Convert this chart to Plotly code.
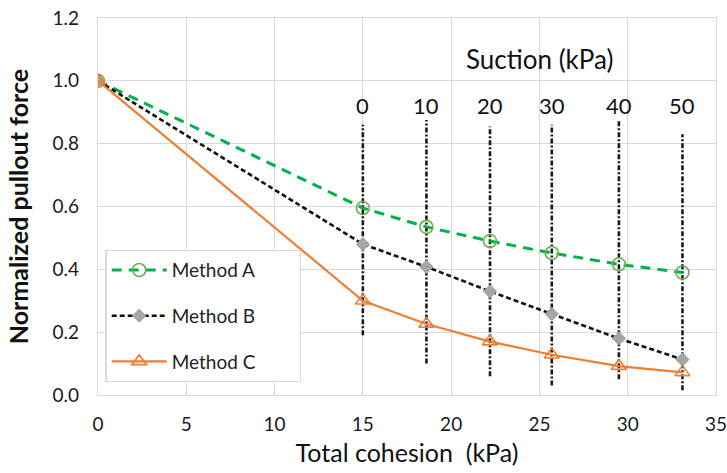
import plotly.graph_objects as go

cohesion = [0, 15, 18.6, 22.2, 25.7, 29.5, 33.1]
method_a = [1.0, 0.595, 0.535, 0.49, 0.452, 0.416, 0.39]
method_b = [1.0, 0.48, 0.408, 0.33, 0.258, 0.18, 0.113]
method_c = [1.0, 0.30, 0.226, 0.17, 0.128, 0.092, 0.072]
series_names = ["Method A", "Method B", "Method C"]

suction_labels = ["0", "10", "20", "30", "40", "50"]
suction_x = [15, 18.6, 22.2, 25.7, 29.5, 33.1]
suction_top = [0.86, 0.875, 0.855, 0.86, 0.875, 0.83]
suction_bottom = [0.19, 0.10, 0.06, 0.03, 0.05, 0.015]

FONT = "Lato"
PAD = "&nbsp;" * 8
fig = go.Figure()

for sx, st, sb in zip(suction_x, suction_top, suction_bottom):
    fig.add_trace(go.Scatter(x=[sx, sx], y=[sb, st], mode="lines",
                             line=dict(color="#1a1a1a", width=2.6, dash="5px,2px,2px,2px"),
                             showlegend=False, hoverinfo="skip"))

fig.add_trace(go.Scatter(x=cohesion, y=method_a, mode="lines+markers", name=series_names[0] + PAD,
                         legendgroup="a",
                         line=dict(color="#00B050", width=3, dash="10px,7px"),
                         marker=dict(symbol="circle-open", size=13, color="#70AD47", line=dict(width=1.6))))
fig.add_trace(go.Scatter(x=cohesion, y=method_b, mode="lines+markers", name=series_names[1] + PAD,
                         legendgroup="b",
                         line=dict(color="#111111", width=2.6, dash="5px,3px"),
                         marker=dict(symbol="diamond", size=11, color="#A5A5A5")))
fig.add_trace(go.Scatter(x=cohesion, y=method_c, mode="lines+markers", name=series_names[2] + PAD,
                         legendgroup="c",
                         line=dict(color="#ED7D31", width=2.2),
                         marker=dict(symbol="triangle-up-open", size=13, color="#ED7D31", line=dict(width=1.6))))

for sx, lab in zip(suction_x, suction_labels):
    fig.add_annotation(x=sx, y=0.92, text=lab, showarrow=False,
                       font=dict(family=FONT, size=22, color="#111"), xanchor="center", yanchor="middle")
fig.add_annotation(x=25.0, y=1.07, text="Suction (kPa)", showarrow=False,
                   font=dict(family=FONT, size=26, color="#111"), xanchor="center", yanchor="middle")

fig.update_layout(
    width=727, height=473,
    margin=dict(l=98, r=11, t=18, b=78),
    plot_bgcolor="white", paper_bgcolor="white",
    font=dict(family=FONT, color="#222"),
    xaxis=dict(range=[0, 35], dtick=5, showgrid=True, gridcolor="#d9d9d9", gridwidth=1.3,
               zeroline=False, showline=True, linecolor="#d9d9d9", linewidth=1.3, mirror=True,
               ticks="", automargin=False, ticklabelstandoff=12, ticklabeloverflow="allow",
               tickfont=dict(family=FONT, size=19, color="#1a1a1a"),
               title=dict(text="Total cohesion  (kPa)", font=dict(family=FONT, size=25, color="#111"), standoff=10)),
    yaxis=dict(range=[0, 1.2], dtick=0.2, tickformat=".1f", showgrid=True, gridcolor="#d9d9d9", gridwidth=1.3,
               zeroline=False, showline=True, linecolor="#d9d9d9", linewidth=1.3, mirror=True,
               ticks="", automargin=False, ticklabelstandoff=14, ticklabeloverflow="allow",
               tickfont=dict(family=FONT, size=19, color="#1a1a1a"),
               title=dict(text="<b>Normalized pullout force</b>", font=dict(family=FONT, size=25, color="#111"), standoff=16)),
    legend=dict(x=0.012, y=0.385, xanchor="left", yanchor="top", bgcolor="white",
                bordercolor="#d9d9d9", borderwidth=1.3, tracegroupgap=18, itemwidth=55,
                font=dict(family=FONT, size=19, color="#222")),
)

fig.write_html("out.html", config={"displayModeBar": False},
               post_script="document.body.style.margin='0';")
